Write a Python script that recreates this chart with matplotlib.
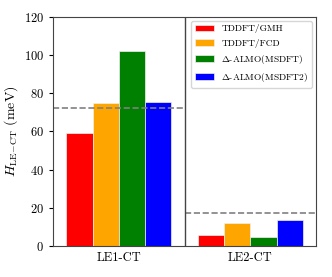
import numpy as np
import matplotlib
matplotlib.use('Agg')
import matplotlib.pyplot as plt

plt.rcParams['font.family'] = 'serif'
plt.rcParams['font.serif'] = ['cmr10']
plt.rcParams['mathtext.fontset'] = 'cm'
plt.rcParams['axes.formatter.use_mathtext'] = True

# values
states = ['LE1-CT', 'LE2-CT']
methods = ['TDDFT/GMH', 'TDDFT/FCD', r'$\Delta$-ALMO(MSDFT)', r'$\Delta$-ALMO(MSDFT2)']
colors = ['red', 'orange', 'green', 'blue']
couplings = [
  [59.0, 5.5],   # TDDFT/GMH
  [74.8, 12.2],  # TDDFT/FCD
  [102.0, 4.5],  # Delta-ALMO(MSDFT)
  [75.3, 13.5],  # Delta-ALMO(MSDFT2)
]
reference = [72.2, 17.2]

fig = plt.figure(figsize=(3.32, 2.77), dpi=100)
ax = fig.add_axes([0.16, 0.112, 0.792, 0.827])

x = np.arange(len(states))
width = 0.2
for i, (name, vals) in enumerate(zip(methods, couplings)):
  ax.bar(x + (i - 1.5) * width, vals, width, color=colors[i], label=name,
         edgecolor='#f0f0f0', linewidth=0.5)

# dashed reference line for each state, limited to its own half
for j, ref in enumerate(reference):
  ax.hlines(ref, j - 0.5, j + 0.5, colors='grey', linestyles='--', linewidth=1.2)
ax.axvline(0.5, color='#444444', linewidth=1.0)

ax.set_xlim(-0.5, 1.5)
ax.set_ylim(0, 120)
ax.set_xticks(x)
ax.set_xticklabels(states, fontsize=9)
ax.tick_params(axis='x', length=0, pad=4)
ax.tick_params(axis='y', labelsize=9, length=3)
ax.set_ylabel(r'$H_{\rm LE\!-\!CT}$ (meV)', fontsize=10, labelpad=3)
for s in ax.spines.values():
  s.set_color('#444444')

ax.legend(loc='upper right', fontsize=6.8, handlelength=2.0, borderaxespad=0.4,
          handletextpad=0.8, labelspacing=0.55)

fig.savefig('out.png', dpi=100)
